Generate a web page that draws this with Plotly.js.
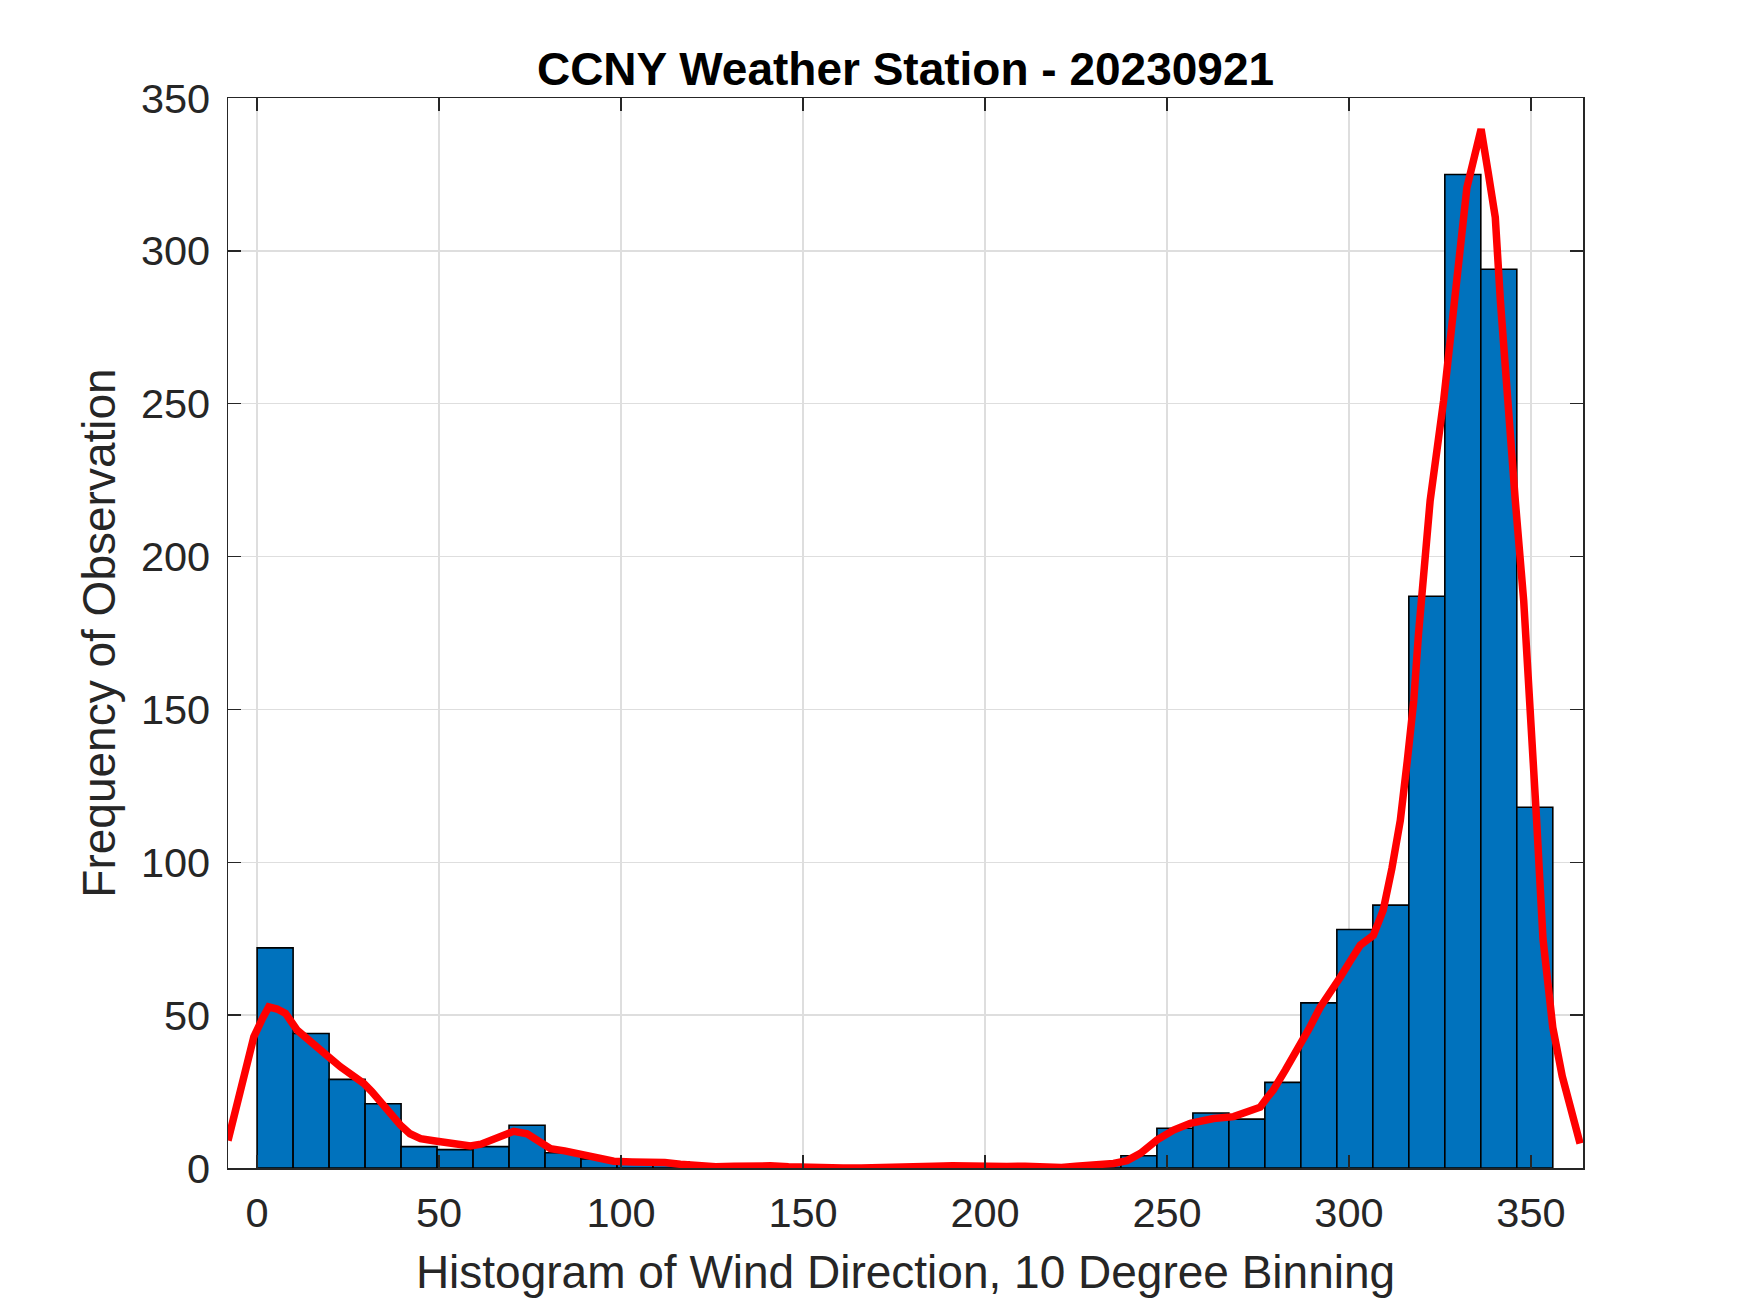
<!DOCTYPE html>
<html>
<head>
<meta charset="utf-8">
<script src="https://cdn.plot.ly/plotly-3.0.1.min.js"></script>
<style>html,body{margin:0;padding:0;background:#fff;}#chart{width:1750px;height:1313px;}</style>
</head>
<body>
<div id="chart"></div>
<script>
// Histogram: 36 bins spanning the data range 0..356 degrees
const binMin = 0;
const binMax = 356;
const binCounts = [72, 44, 29, 21, 7, 6, 7, 14, 5, 3,
                   2, 2, 1, 1, 1, 0, 0, 0, 0, 1,
                   0, 1, 0, 1, 4, 13, 18, 16, 28, 54,
                   78, 86, 187, 325, 294, 118];

// Smoothed density curve (scaled to counts)
const curveX = [-8, -6.4, -3.7, -0.9, 1.5, 3.2, 5.5, 7.8, 11, 14.6, 18.5, 22.9, 26, 29.3, 31.5, 33.9, 36.5, 39.4, 42, 44.9,
  48.5, 52.2, 55.5, 58.6, 61.5, 64.1, 67.5, 70.5, 74.2, 77.5, 80.6, 84.5, 88.8, 93, 98, 103, 107.1, 112, 116.3, 121,
  126, 131, 136, 141, 146, 151, 156, 161, 166, 171, 176, 181, 186, 191, 196, 201, 206, 211, 216, 221,
  225, 230, 235.3, 239, 242.7, 247.3, 251.8, 256.4, 262.8, 268.3, 272.9, 275.6, 277.5, 279.2, 282.5, 285.8, 289, 292.1, 295, 297.6,
  300.5, 303.1, 306.7, 309.4, 311.8, 314.1, 316, 317.8, 319.1, 322.3, 326, 328.7, 330.6, 332.4, 334.5, 336.3, 338.2, 340.2, 341.6, 343.4,
  345.7, 348, 349.8, 351.5, 353.3, 356, 358.6, 361, 363.5];
const curveY = [9, 16.8, 29, 42.9, 49, 52.7, 52, 50.6, 45.1, 41.8, 37.5, 33.1, 30.5, 27.7, 25, 21.5, 17.5, 14, 11.2, 9.6,
  8.9, 8.3, 7.8, 7.2, 7.8, 9.2, 11, 12, 11.2, 8.5, 6.3, 5.6, 4.7, 3.5, 2.2, 2, 2, 1.8, 1.2, 0.6,
  0.4, 0.6, 0.8, 0.7, 0.4, 0.1, 0, 0, 0, 0, 0.1, 0.3, 0.6, 0.7, 0.5, 0.3, 0.5, 0.6, 0.3, 0.2,
  0.6, 0.9, 1.5, 2.4, 4.8, 9.2, 12.4, 14.6, 16.2, 16.8, 18.4, 19.9, 23, 25.5, 32, 38.6, 45.5, 52.6, 57.5, 62.4,
  68, 72.9, 76.1, 84.3, 98, 113.7, 133, 152.9, 174.7, 218.3, 251, 278.2, 300, 320.7, 331, 339.8, 326, 310.9, 283.7, 251,
  218.3, 185.6, 152.9, 115, 75, 46, 30, 18, 8];

const xTicks = [0, 50, 100, 150, 200, 250, 300, 350];
const yTicks = [0, 50, 100, 150, 200, 250, 300, 350];

const titleText = 'CCNY Weather Station - 20230921';
const xTitle = 'Histogram of Wind Direction, 10 Degree Binning';
const yTitle = 'Frequency of Observation';

const binWidth = (binMax - binMin) / binCounts.length;
const binCenters = binCounts.map((_, i) => binMin + (i + 0.5) * binWidth);

const FONT = 'Liberation Sans, Arial, Helvetica, sans-serif';
const AX = '#262626';

const traces = [
  {
    type: 'bar',
    x: binCenters,
    y: binCounts,
    width: binWidth,
    marker: {color: '#0072BD', line: {color: '#000000', width: 1.6}},
    hoverinfo: 'x+y'
  },
  {
    type: 'scatter',
    mode: 'lines',
    x: curveX,
    y: curveY,
    line: {color: '#FF0000', width: 7.5},
    hoverinfo: 'x+y'
  }
];

function axisCommon(ticks) {
  return {
    tickmode: 'array',
    tickvals: ticks,
    ticktext: ticks.map(String),
    ticks: 'inside',
    ticklen: 13,
    tickwidth: 1.5,
    tickcolor: AX,
    showline: true,
    linecolor: AX,
    linewidth: 1.5,
    mirror: 'ticks',
    showgrid: true,
    gridcolor: '#dedede',
    gridwidth: 1.5,
    zeroline: false,
    tickfont: {family: FONT, size: 41.5, color: AX}
  };
}

const layout = {
  width: 1750,
  height: 1313,
  paper_bgcolor: '#ffffff',
  plot_bgcolor: '#ffffff',
  showlegend: false,
  bargap: 0,
  margin: {l: 228, r: 167, t: 98, b: 145, pad: 0},
  title: {
    text: titleText,
    font: {family: FONT, size: 46, color: '#000000', weight: 'bold'},
    x: (228 + (1750 - 167)) / 2 / 1750,
    xanchor: 'center',
    xref: 'container',
    y: 1 - 69 / 1313,
    yanchor: 'middle',
    yref: 'container'
  },
  xaxis: Object.assign(axisCommon(xTicks), {
    range: [-8, 364.3],
    ticklabelstandoff: 8,
    title: {text: xTitle, font: {family: FONT, size: 46, color: AX}, standoff: 20}
  }),
  yaxis: Object.assign(axisCommon(yTicks), {
    range: [0, 350],
    ticklabelstandoff: 8,
    title: {text: yTitle, font: {family: FONT, size: 46, color: AX}, standoff: 11}
  })
};

Plotly.newPlot('chart', traces, layout, {displayModeBar: false, staticPlot: true});
</script>
</body>
</html>
